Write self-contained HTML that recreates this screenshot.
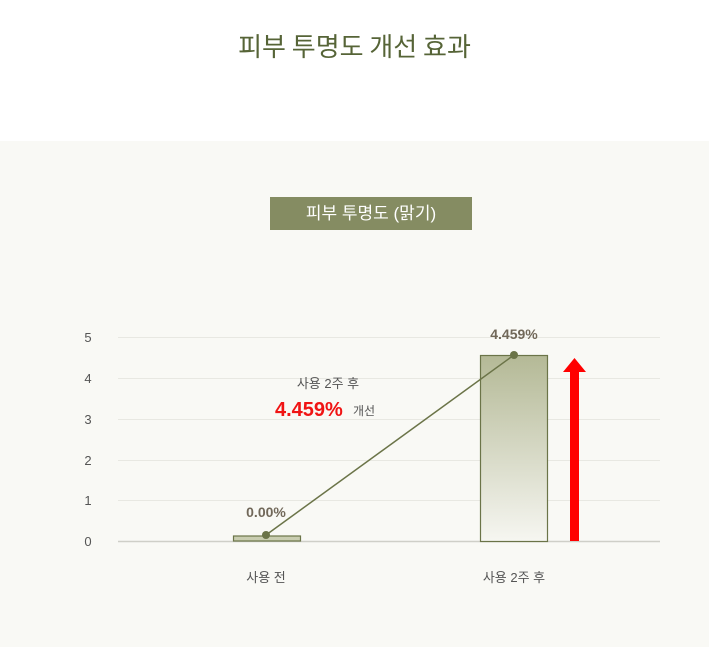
<!DOCTYPE html>
<html><head><meta charset="utf-8"><style>
body{margin:0;width:709px;height:647px;background:#fff;font-family:"Liberation Sans","Noto Sans CJK KR",sans-serif;position:relative;overflow:hidden}
.t{position:absolute;top:27px;left:0;width:709px;text-align:center;font-size:26px;color:#566437;font-family:"Noto Sans CJK KR",sans-serif;font-weight:400}
.bg{position:absolute;top:141px;left:0;width:709px;height:506px;background:#f9f9f5}
.lb{position:absolute;left:270px;top:197px;width:202px;height:33px;background:#858c62;color:#fff;font-size:17px;text-align:center;line-height:33px}
</style></head><body>
<div class="t">피부 투명도 개선 효과</div>
<div class="bg"></div>
<div class="lb">피부 투명도 (맑기)</div>
<svg width="709" height="647" style="position:absolute;left:0;top:0" font-family="Liberation Sans, Noto Sans CJK KR, sans-serif">
<defs><linearGradient id="g" x1="0" y1="0" x2="0" y2="1"><stop offset="0" stop-color="#b4b996"/><stop offset="1" stop-color="#f6f6f1"/></linearGradient></defs>
<g stroke="#e8e8e2" stroke-width="1">
<line x1="118" y1="337.5" x2="660" y2="337.5"/><line x1="118" y1="378.5" x2="660" y2="378.5"/><line x1="118" y1="419.5" x2="660" y2="419.5"/><line x1="118" y1="460.5" x2="660" y2="460.5"/><line x1="118" y1="500.5" x2="660" y2="500.5"/></g>
<line x1="118" y1="541.5" x2="660" y2="541.5" stroke="#cfcfc8" stroke-width="1.5"/>
<g font-size="13" fill="#555" text-anchor="middle"><text x="88" y="342">5</text><text x="88" y="383">4</text><text x="88" y="424">3</text><text x="88" y="465">2</text><text x="88" y="505">1</text><text x="88" y="546">0</text></g>
<rect x="233.5" y="536" width="67" height="5" fill="#c9cdb0" stroke="#6b7448" stroke-width="1.2"/>
<rect x="480.5" y="355.5" width="67" height="186" fill="url(#g)" stroke="#6b7448" stroke-width="1.2"/>
<line x1="266" y1="535" x2="514" y2="355" stroke="#6b7448" stroke-width="1.5"/>
<circle cx="266" cy="535" r="4" fill="#6b7448"/><circle cx="514" cy="355" r="4" fill="#6b7448"/>
<polygon points="570,541 579,541 579,372 586,372 574.5,358 563,372 570,372" fill="#f00"/>
<g font-size="14" fill="#5a4f3e" text-anchor="middle" font-weight="bold" opacity="0.85"><text x="266" y="517">0.00%</text><text x="514" y="339">4.459%</text></g>
<text x="328" y="388" font-size="13" fill="#555" text-anchor="middle">사용 2주 후</text>
<text x="275" y="416" font-size="20" font-weight="bold" fill="#f01414">4.459%</text>
<text x="353" y="415" font-size="12" fill="#555">개선</text>
<g font-size="13" fill="#555" text-anchor="middle"><text x="266" y="582">사용 전</text><text x="514" y="582">사용 2주 후</text></g>
</svg>
</body></html>
